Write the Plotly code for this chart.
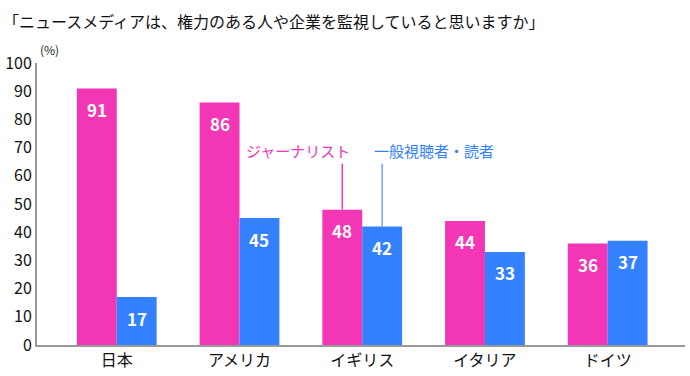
import plotly.graph_objects as go

categories = ["日本", "アメリカ", "イギリス", "イタリア", "ドイツ"]
journalists = [91, 86, 48, 44, 36]
audience = [17, 45, 42, 33, 37]
y_ticks = [0, 10, 20, 30, 40, 50, 60, 70, 80, 90, 100]
series_names = ["ジャーナリスト", "一般視聴者・読者"]

PINK = "#F236B5"
BLUE = "#3381FF"
FONT = "Noto Sans CJK JP"

x_idx = list(range(len(categories)))
off = 0.1625

fig = go.Figure()
fig.add_trace(go.Bar(x=[i - off for i in x_idx], y=journalists, width=0.325,
                     marker=dict(color=PINK, line=dict(width=0)), name=series_names[0],
                     hoverinfo="y"))
fig.add_trace(go.Bar(x=[i + off for i in x_idx], y=audience, width=0.325,
                     marker=dict(color=BLUE, line=dict(width=0)), name=series_names[1],
                     hoverinfo="y"))

annotations = []
for i, v in enumerate(journalists):
    annotations.append(dict(x=i - off, y=v, text=f"<b>{v}</b>", showarrow=False,
                            yshift=-21, font=dict(color="white", size=17, family=FONT)))
for i, v in enumerate(audience):
    annotations.append(dict(x=i + off, y=v, text=f"<b>{v}</b>", showarrow=False,
                            yshift=-21, font=dict(color="white", size=17, family=FONT)))

# legend-like labels with leader lines
annotations.append(dict(x=2 - off, y=64.5, text=series_names[0], showarrow=False,
                        xanchor="right", yanchor="bottom", xshift=10,
                        font=dict(color=PINK, size=15, family=FONT)))
annotations.append(dict(x=2 + off, y=64.5, text=series_names[1], showarrow=False,
                        xanchor="left", yanchor="bottom", xshift=-10,
                        font=dict(color=BLUE, size=15, family=FONT)))
annotations.append(dict(x=0, y=1.0, xref="paper", yref="paper", text="(%)", showarrow=False,
                        xanchor="left", yanchor="bottom", xshift=1, yshift=3,
                        font=dict(color="#222", size=12, family=FONT)))
annotations.append(dict(x=0, y=1, xref="paper", yref="paper", xshift=-36, yshift=28,
                        text="「ニュースメディアは、権力のある人や企業を監視していると思いますか」",
                        showarrow=False, xanchor="left", yanchor="bottom",
                        font=dict(color="#111", size=16, family=FONT)))

shapes = [
    dict(type="line", xref="x", yref="y", x0=2 - off, x1=2 - off, y0=journalists[2], y1=64.3,
         line=dict(color=PINK, width=1.5)),
    dict(type="line", xref="x", yref="y", x0=2 + off, x1=2 + off, y0=audience[2], y1=64.3,
         line=dict(color="#6FA4FF", width=1.5)),
]

fig.update_layout(
    width=690, height=376,
    margin=dict(l=36, r=5, t=63, b=27),
    paper_bgcolor="white", plot_bgcolor="white",
    showlegend=False, barmode="overlay",
    font=dict(family=FONT, color="#222"),
    annotations=annotations, shapes=shapes,
    xaxis=dict(range=[-0.65, 4.63], tickmode="array", tickvals=x_idx, ticktext=categories,
               showgrid=False, zeroline=False, showline=True, linecolor="#999", linewidth=2,
               ticks="", tickfont=dict(size=16, color="#111", family=FONT), fixedrange=True),
    yaxis=dict(range=[0, 100], tickmode="array", tickvals=y_ticks, showgrid=False,
               zeroline=False, showline=True, linecolor="#999", linewidth=2, ticks="",
               tickfont=dict(size=16, color="#111", family=FONT), fixedrange=True),
)

fig.write_html("out.html", config={"displayModeBar": False},
               post_script="document.body.style.margin='0';document.body.style.overflow='hidden';")
